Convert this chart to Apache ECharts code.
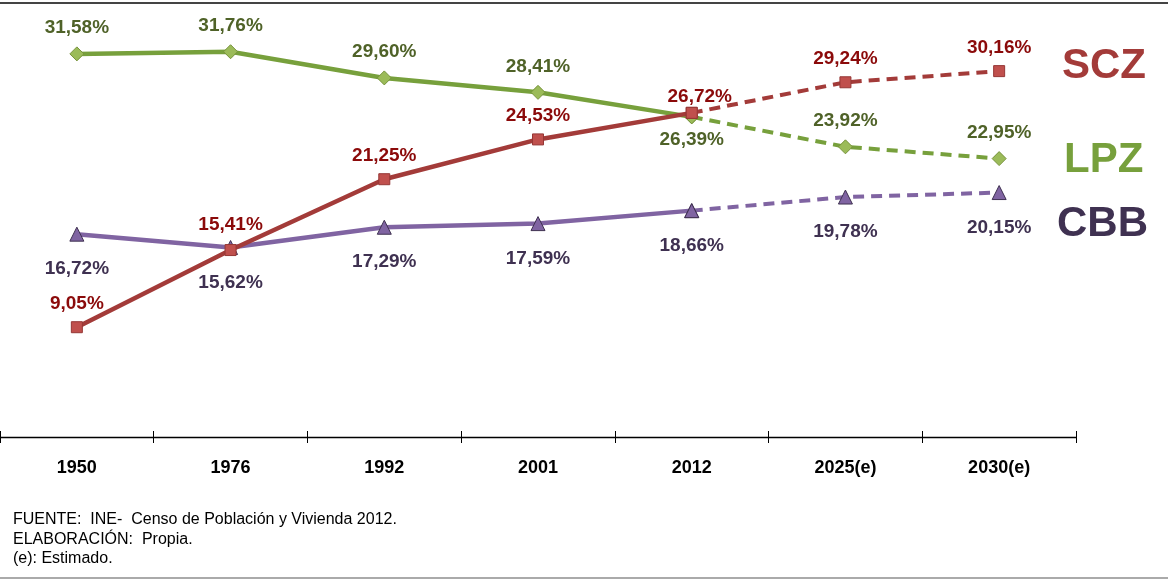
<!DOCTYPE html>
<html><head><meta charset="utf-8">
<script src="https://cdn.jsdelivr.net/npm/echarts@6/dist/echarts.min.js"></script>
<style>html,body{margin:0;padding:0;background:#fff}#c{width:1168px;height:581px}</style>
</head><body><div id="c"></div>
<script>
var categories = ['1950','1976','1992','2001','2012','2025(e)','2030(e)'];
var lpz = [31.58, 31.76, 29.60, 28.41, 26.39, 23.92, 22.95];
var scz = [9.05, 15.41, 21.25, 24.53, 26.72, 29.24, 30.16];
var cbb = [16.72, 15.62, 17.29, 17.59, 18.66, 19.78, 20.15];
var lastObserved = 4; // index of 2012

function fmt(v){ return v.toFixed(2).replace('.', ',') + '%'; }

var FONT = 'Liberation Sans, Arial, sans-serif';
var styles = {
  lpz:{line:'#77A03C', fill:'#9BBB59', border:'#77933C', label:'#4F6228', symbol:'diamond', size:14, pos:'top', dist:9},
  scz:{line:'#A33B39', fill:'#C0504D', border:'#953735', label:'#8B0A0A', symbol:'rect', size:11, pos:'top', dist:8},
  cbb:{line:'#8064A2', fill:'#8064A2', border:'#3F3151', label:'#3F3151', symbol:'triangle', size:14, pos:'bottom', dist:18}
};
// per-point label overrides
var overrides = {
  lpz:{4:{position:'bottom', distance:6}},
  scz:{4:{distance:1, offset:[8,0]}, 1:{distance:10}}
};

function makeSeries(name, arr){
  var s = styles[name];
  var ov = overrides[name] || {};
  var common = {
    type:'line', symbol:s.symbol, symbolSize:s.size, connectNulls:false,
    itemStyle:{color:s.fill, borderColor:s.border, borderWidth:1},
    animation:false, z: name==='scz'?5:(name==='lpz'?4:3)
  };
  var labelled = arr.map(function(v,i){
    var lab = {show:true, position:s.pos, distance:s.dist, formatter:fmt(v),
      color:s.label, fontFamily:FONT, fontWeight:'bold', fontSize:19};
    if (ov[i]) Object.assign(lab, ov[i]);
    return {value:v, label:lab};
  });
  var solid = Object.assign({}, common, {
    name:name,
    data: labelled.map(function(d,i){ return i<=lastObserved ? d : null; }),
    lineStyle:{color:s.line, width:4.5}
  });
  var dashed = Object.assign({}, common, {
    name:name+'_e',
    data: arr.map(function(v,i){ return i>lastObserved ? labelled[i] : (i===lastObserved ? v : null); }),
    lineStyle:{color:s.line, width:4, type:[11,7]},
    label:{show:false}
  });
  return [solid, dashed];
}

var series = [].concat(makeSeries('cbb', cbb), makeSeries('lpz', lpz), makeSeries('scz', scz));

var chart = echarts.init(document.getElementById('c'), null, {renderer:'canvas'});
chart.setOption({
  backgroundColor:'#fff',
  grid:{left:0, right:92, top:12.4, bottom:144, containLabel:false},
  xAxis:[{
    type:'category', data:categories, boundaryGap:true,
    axisLine:{show:true, lineStyle:{color:'#000', width:1.3}},
    axisTick:{show:true, length:6, lineStyle:{color:'#000', width:1}},
    axisLabel:{color:'#000', fontFamily:FONT, fontWeight:'bold', fontSize:18, margin:22},
    splitLine:{show:false}
  },{
    type:'category', data:categories, boundaryGap:true, position:'bottom',
    axisLine:{show:false}, axisTick:{show:true, inside:true, length:6, lineStyle:{color:'#000', width:1}},
    axisLabel:{show:false}, splitLine:{show:false}
  }],
  yAxis:{type:'value', min:0, max:35, show:false, splitLine:{show:false}},
  series:series,
  graphic:[
    {type:'line', shape:{x1:0,y1:3,x2:1168,y2:3}, style:{stroke:'#444', lineWidth:2}},
    {type:'line', shape:{x1:0,y1:578,x2:1168,y2:578}, style:{stroke:'#aaa', lineWidth:2}},
    {type:'text', left:1062, top:45, style:{text:'SCZ', fill:'#A33B39', font:'bold 42px '+FONT}},
    {type:'text', left:1064, top:139, style:{text:'LPZ', fill:'#77A03C', font:'bold 42px '+FONT}},
    {type:'text', left:1057, top:203, style:{text:'CBB', fill:'#3F3151', font:'bold 42px '+FONT}},
    {type:'text', left:13, top:510, style:{text:'FUENTE:  INE-  Censo de Población y Vivienda 2012.\nELABORACIÓN:  Propia.\n(e): Estimado.', fill:'#000', font:'16px '+FONT, lineHeight:19.5}}
  ]
});
</script></body></html>
